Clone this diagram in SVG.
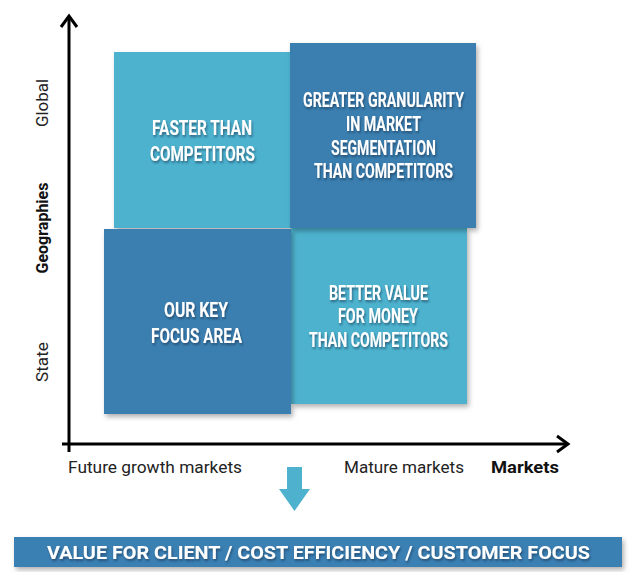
<svg xmlns="http://www.w3.org/2000/svg" width="636" height="584" viewBox="0 0 636 584">
<defs>
<style>
.light{fill:#4eb2ce;}
.dark{fill:#3b7fb0;}
.bt{font-family:Roboto,"Liberation Sans",sans-serif;font-weight:700;font-size:20px;fill:#ffffff;text-anchor:middle;}
.ax{fill:none;stroke:#000;stroke-width:3;stroke-linecap:butt;}
.lbl{font-family:Roboto,"Liberation Sans",sans-serif;font-size:16px;fill:#222;}
.lblb{font-family:Roboto,"Liberation Sans",sans-serif;font-size:16px;font-weight:700;fill:#111;}
.banner{font-family:Roboto,"Liberation Sans",sans-serif;font-weight:700;font-size:18px;fill:#ffffff;text-anchor:middle;}
</style>
<filter id="sh" x="-10%" y="-10%" width="125%" height="125%">
<feDropShadow dx="2" dy="3" stdDeviation="2.5" flood-color="#000" flood-opacity="0.3"/>
</filter>
<filter id="tsh" x="-10%" y="-30%" width="120%" height="170%">
<feDropShadow dx="1" dy="2" stdDeviation="1.2" flood-color="#0a2a45" flood-opacity="0.55"/>
</filter>
</defs>
<rect width="636" height="584" fill="#ffffff"/>

<g id="faster">
<rect class="light" x="114" y="52" width="176" height="176" filter="url(#sh)"/>
<g filter="url(#tsh)">
<text class="bt" x="202" y="135" textLength="100" lengthAdjust="spacingAndGlyphs">FASTER THAN</text>
<text class="bt" x="202.5" y="161" textLength="105" lengthAdjust="spacingAndGlyphs">COMPETITORS</text>
</g>
</g>

<g id="better-value">
<rect class="light" x="291" y="228" width="176" height="176" filter="url(#sh)"/>
<g filter="url(#tsh)">
<text class="bt" x="378.5" y="300" textLength="99" lengthAdjust="spacingAndGlyphs">BETTER VALUE</text>
<text class="bt" x="378" y="323" textLength="80" lengthAdjust="spacingAndGlyphs">FOR MONEY</text>
<text class="bt" x="378.5" y="347" textLength="139" lengthAdjust="spacingAndGlyphs">THAN COMPETITORS</text>
</g>
</g>

<g id="key-focus">
<rect class="dark" x="104" y="229" width="187" height="185" filter="url(#sh)"/>
<g filter="url(#tsh)">
<text class="bt" x="196" y="317" textLength="64" lengthAdjust="spacingAndGlyphs">OUR KEY</text>
<text class="bt" x="196.5" y="343" textLength="91" lengthAdjust="spacingAndGlyphs">FOCUS AREA</text>
</g>
</g>

<g id="granularity">
<rect class="dark" x="290" y="43" width="186" height="185" filter="url(#sh)"/>
<g filter="url(#tsh)">
<text class="bt" x="383.5" y="107" textLength="161" lengthAdjust="spacingAndGlyphs">GREATER GRANULARITY</text>
<text class="bt" x="383.5" y="131" textLength="75" lengthAdjust="spacingAndGlyphs">IN MARKET</text>
<text class="bt" x="383.5" y="155" textLength="105" lengthAdjust="spacingAndGlyphs">SEGMENTATION</text>
<text class="bt" x="383.5" y="178" textLength="139" lengthAdjust="spacingAndGlyphs">THAN COMPETITORS</text>
</g>
</g>

<g id="connectors">
<line class="ax" x1="69" y1="16" x2="69" y2="452"/>
<polyline class="ax" points="61,27 69,16 77,27"/>
<line class="ax" x1="62" y1="444" x2="568" y2="444"/>
<polyline class="ax" points="557,436 568,444 557,452"/>
<polygon fill="#4eb2ce" points="287,467 302,467 302,489 310,489 294.5,511 279,489 287,489"/>
</g>

<g id="axis-labels">
<text class="lbl" transform="translate(48,103) rotate(-90)" text-anchor="middle" textLength="48" lengthAdjust="spacingAndGlyphs">Global</text>
<text class="lblb" transform="translate(48,228) rotate(-90)" text-anchor="middle">Geographies</text>
<text class="lbl" transform="translate(48,362) rotate(-90)" text-anchor="middle" textLength="40" lengthAdjust="spacingAndGlyphs">State</text>
<text class="lbl" x="68" y="473" textLength="174" lengthAdjust="spacingAndGlyphs">Future growth markets</text>
<text class="lbl" x="344" y="473" textLength="120" lengthAdjust="spacingAndGlyphs">Mature markets</text>
<text class="lblb" x="491" y="473" textLength="68" lengthAdjust="spacingAndGlyphs">Markets</text>
</g>

<g id="banner">
<rect x="14" y="537" width="608" height="30" fill="#3b80b3" filter="url(#sh)"/>
<text class="banner" x="318.5" y="559" textLength="543" lengthAdjust="spacingAndGlyphs" filter="url(#tsh)">VALUE FOR CLIENT / COST EFFICIENCY / CUSTOMER FOCUS</text>
</g>
</svg>
